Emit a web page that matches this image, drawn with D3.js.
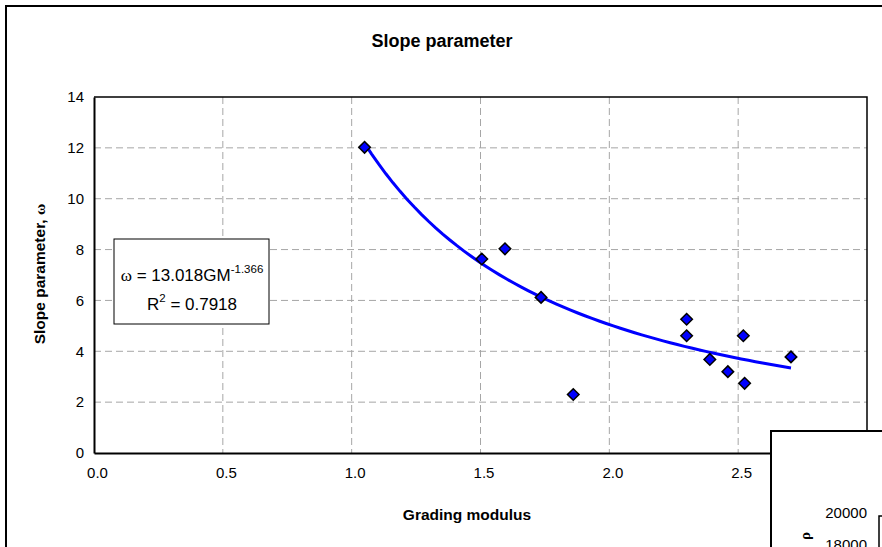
<!DOCTYPE html>
<html>
<head>
<meta charset="utf-8">
<script src="https://cdn.jsdelivr.net/npm/d3@7"></script>
<style>
  body { margin: 0; background: #fff; }
  text { font-family: "Liberation Sans", Arial, sans-serif; fill: #000; }
</style>
</head>
<body>
<div id="chart"></div>
<script>
// chart values
var gradingModulus = [1.05, 1.505, 1.595, 1.735, 1.86, 2.30, 2.30, 2.39, 2.46, 2.52, 2.525, 2.705];
var slopeParam     = [12.02, 7.63, 8.03, 6.12, 2.3, 5.26, 4.61, 3.68, 3.20, 4.61, 2.74, 3.78];
var xTicks = [0, 0.5, 1.0, 1.5, 2.0, 2.5, 3.0];
var yTicks = [0, 2, 4, 6, 8, 10, 12, 14];
// power trendline shown on the chart: w = a * GM^b
var fitA = 13.018, fitB = -1.366, fitR2 = "0.7918";
var fitRange = [1.05, 2.705];

var width = 882, height = 547;
var plot = {left: 94, top: 97, right: 867, bottom: 453};

var svg = d3.select("#chart").append("svg")
  .attr("width", width)
  .attr("height", height);

var x = d3.scaleLinear().domain([0, 3]).range([plot.left, plot.right]);
var y = d3.scaleLinear().domain([0, 14]).range([plot.bottom, plot.top]);

// outer chart border
svg.append("path")
  .attr("d", "M6,547 V6 H882")
  .attr("fill", "none").attr("stroke", "#000").attr("stroke-width", 2);

// title
svg.append("text")
  .attr("x", 442).attr("y", 47)
  .attr("text-anchor", "middle")
  .style("font-size", "18px").style("font-weight", "bold")
  .text("Slope parameter");

// gridlines
svg.append("g").selectAll("line")
  .data(yTicks.filter(function(d) { return d > 0 && d < 14; }))
  .enter().append("line")
  .attr("x1", plot.left).attr("x2", plot.right)
  .attr("y1", function(d) { return y(d); }).attr("y2", function(d) { return y(d); })
  .attr("stroke", "#a6a6a6").attr("stroke-dasharray", "7,4");

svg.append("g").selectAll("line")
  .data(xTicks.filter(function(d) { return d > 0 && d < 3; }))
  .enter().append("line")
  .attr("y1", plot.top).attr("y2", plot.bottom)
  .attr("x1", function(d) { return x(d); }).attr("x2", function(d) { return x(d); })
  .attr("stroke", "#a6a6a6").attr("stroke-dasharray", "7,4");

// plot frame top/right
svg.append("path")
  .attr("d", "M" + plot.left + "," + plot.top + " H" + plot.right + " V" + plot.bottom)
  .attr("fill", "none").attr("stroke", "#000").attr("stroke-width", 1.5);

// axes
var xAxis = d3.axisBottom(x).tickValues(xTicks).tickFormat(d3.format(".1f")).tickSize(0).tickPadding(14);
var yAxis = d3.axisLeft(y).tickValues(yTicks).tickFormat(d3.format("d")).tickSize(0).tickPadding(10);

var gx = svg.append("g").attr("transform", "translate(0," + plot.bottom + ")").call(xAxis);
var gy = svg.append("g").attr("transform", "translate(" + plot.left + ",0)").call(yAxis);
[gx, gy].forEach(function(g) {
  g.select(".domain").attr("stroke", "#000").attr("stroke-width", 2);
  g.selectAll("text").style("font-size", "15px").style("font-family", "Liberation Sans, Arial, sans-serif");
});
gx.selectAll("text").attr("dx", 3);

// axis titles
svg.append("text")
  .attr("x", 467).attr("y", 520)
  .attr("text-anchor", "middle")
  .style("font-size", "15.5px").style("font-weight", "bold")
  .text("Grading modulus");

var yt = svg.append("text")
  .attr("transform", "translate(45,274) rotate(-90)")
  .attr("text-anchor", "middle")
  .style("font-size", "15.5px").style("font-weight", "bold");
yt.append("tspan").text("Slope parameter,   ");
yt.append("tspan").style("font-family", "Liberation Serif, serif").text("ω");

// trendline
var fitPts = d3.range(0, 61).map(function(i) {
  var gm = fitRange[0] + (fitRange[1] - fitRange[0]) * i / 60;
  return [gm, fitA * Math.pow(gm, fitB)];
});
svg.append("path")
  .datum(fitPts)
  .attr("d", d3.line().x(function(d) { return x(d[0]); }).y(function(d) { return y(d[1]); }))
  .attr("fill", "none").attr("stroke", "#0000ff").attr("stroke-width", 3);

// markers
svg.append("g").selectAll("path")
  .data(gradingModulus)
  .enter().append("path")
  .attr("d", d3.symbol().type(d3.symbolDiamond2).size(85))
  .attr("transform", function(d, i) { return "translate(" + x(d) + "," + y(slopeParam[i]) + ")"; })
  .attr("fill", "#0000ff").attr("stroke", "#000").attr("stroke-width", 1.5);

// equation box
svg.append("rect")
  .attr("x", 114).attr("y", 239).attr("width", 155).attr("height", 85)
  .attr("fill", "#fff").attr("stroke", "#000").attr("stroke-width", 1);

var eq = svg.append("text")
  .attr("x", 192).attr("y", 281)
  .attr("text-anchor", "middle")
  .style("font-size", "17px");
eq.append("tspan").style("font-family", "Liberation Serif, serif").text("ω");
eq.append("tspan").text(" = " + fitA.toFixed(3) + "GM");
eq.append("tspan").attr("dy", -8).style("font-size", "11.5px").text(String(fitB));

var r2 = svg.append("text")
  .attr("x", 192).attr("y", 310)
  .attr("text-anchor", "middle")
  .style("font-size", "17px");
r2.append("tspan").text("R");
r2.append("tspan").attr("dy", -8).style("font-size", "11.5px").text("2");
r2.append("tspan").attr("dy", 8).text(" = " + fitR2);

// second chart overlapping at bottom right
var g2 = svg.append("g");
g2.append("rect")
  .attr("x", 771).attr("y", 431).attr("width", 200).attr("height", 200)
  .attr("fill", "#fff").attr("stroke", "#000").attr("stroke-width", 2);
g2.append("text")
  .attr("x", 867).attr("y", 518).attr("text-anchor", "end")
  .style("font-size", "15px").text("20000");
g2.append("text")
  .attr("x", 867).attr("y", 550).attr("text-anchor", "end")
  .style("font-size", "15px").text("18000");
g2.append("text")
  .attr("transform", "translate(810,536) rotate(-90)")
  .attr("text-anchor", "middle")
  .style("font-size", "15px").style("font-weight", "bold")
  .style("font-family", "Liberation Serif, serif")
  .text("ρ");
g2.append("path")
  .attr("d", "M884,516 H879 V547")
  .attr("fill", "none").attr("stroke", "#000").attr("stroke-width", 1.5);
</script>
</body>
</html>
